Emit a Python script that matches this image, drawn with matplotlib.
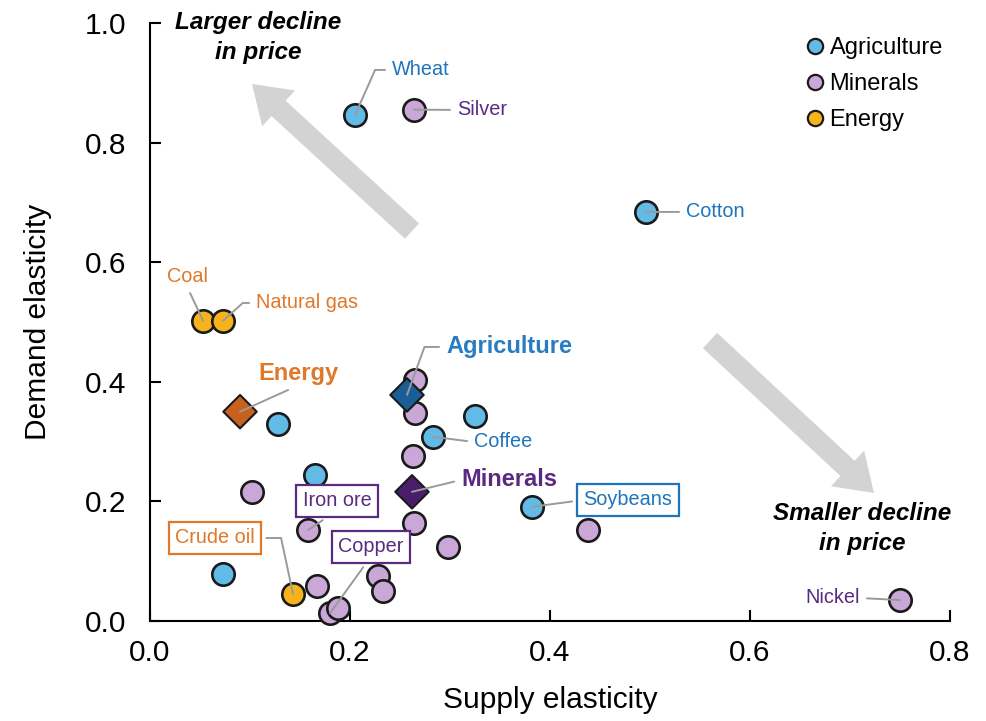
import matplotlib
matplotlib.use("Agg")
import matplotlib.pyplot as plt
from matplotlib.lines import Line2D

plt.rcParams['font.family'] = ['Liberation Sans', 'DejaVu Sans']

# ---------------- data ----------------
agri_names = ["Wheat", "Cotton", "", "", "Coffee", "", "Soybeans", ""]
agri_x = [0.205, 0.496, 0.128, 0.325, 0.283, 0.165, 0.382, 0.073]
agri_y = [0.846, 0.684, 0.329, 0.343, 0.308, 0.244, 0.191, 0.079]

min_names = ["Silver", "", "", "", "", "", "Iron ore", "", "", "", "", "",
             "Copper", "", "Nickel"]
min_x = [0.264, 0.265, 0.265, 0.263, 0.102, 0.264, 0.158, 0.298, 0.438,
         0.167, 0.228, 0.233, 0.180, 0.188, 0.750]
min_y = [0.855, 0.403, 0.348, 0.276, 0.216, 0.164, 0.152, 0.124, 0.152,
         0.059, 0.075, 0.050, 0.013, 0.022, 0.035]

en_names = ["Coal", "Natural gas", "Crude oil"]
en_x = [0.053, 0.073, 0.143]
en_y = [0.502, 0.502, 0.045]

agg_names = ["Energy", "Agriculture", "Minerals"]
agg_x = [0.090, 0.257, 0.262]
agg_y = [0.350, 0.378, 0.216]

x_ticks = [0.0, 0.2, 0.4, 0.6, 0.8]
y_ticks = [0.0, 0.2, 0.4, 0.6, 0.8, 1.0]

# ---------------- styles ----------------
AGRI_FILL, MIN_FILL, EN_FILL = "#62BAE6", "#C9A7D6", "#F7B31C"
AGRI_TXT, MIN_TXT, EN_TXT = "#1E74BD", "#5A2A80", "#E0782A"
AGG_FILL = {"Energy": "#C8611E", "Agriculture": "#1B5E97", "Minerals": "#4A1D6B"}
EDGE = "#1a1a1a"
LEAD = "#9a9a9a"
ARROW = "#D3D3D3"

fig = plt.figure(figsize=(9.87, 7.21), dpi=100)
ax = fig.add_axes([0.152, 0.1387, 0.8105, 0.8295])
ax.set_xlim(0, 0.8)
ax.set_ylim(0, 1.0)

# big grey arrows
arrow_style = "simple,head_length=1.3,head_width=1.75,tail_width=0.75"
ax.annotate("", xy=(0.102, 0.898), xytext=(0.262, 0.652),
            arrowprops=dict(arrowstyle=arrow_style, color=ARROW, lw=0,
                            mutation_scale=20, shrinkA=0, shrinkB=0), zorder=1)
ax.annotate("", xy=(0.724, 0.214), xytext=(0.560, 0.469),
            arrowprops=dict(arrowstyle=arrow_style, color=ARROW, lw=0,
                            mutation_scale=20, shrinkA=0, shrinkB=0), zorder=1)

ax.text(0.108, 0.976, "Larger decline\nin price", ha="center", va="center",
        fontsize=17.5, fontweight="bold", fontstyle="italic", linespacing=1.38)
ax.text(0.712, 0.155, "Smaller decline\nin price", ha="center", va="center",
        fontsize=17.5, fontweight="bold", fontstyle="italic", linespacing=1.38)

S = 260
ax.scatter(agri_x, agri_y, s=S, c=AGRI_FILL, edgecolors=EDGE, linewidths=1.9,
           zorder=3, clip_on=False)
ax.scatter(min_x, min_y, s=S, c=MIN_FILL, edgecolors=EDGE, linewidths=1.9,
           zorder=3, clip_on=False)
ax.scatter(en_x, en_y, s=S, c=EN_FILL, edgecolors=EDGE, linewidths=1.9,
           zorder=3, clip_on=False)
ax.scatter(agg_x, agg_y, s=290, marker="D",
           c=[AGG_FILL[n] for n in agg_names], edgecolors=EDGE, linewidths=1.5,
           zorder=4, clip_on=False)

# ---------------- labels (layout) ----------------
def px(xp, yp):
    """convert pixel position of the reference layout into data coords"""
    return ((xp - 150) / 1000.0, (621 - yp) / 598.0)

# name: (text pos pixel, ha, relpos, angleB or None, boxed, big)
layout = {
    "Wheat":       ((392, 70), "left", (0, 0.5), 66, False, False),
    "Silver":      ((457, 110), "left", (0, 0.5), None, False, False),
    "Cotton":      ((686, 212), "left", (0, 0.5), None, False, False),
    "Coffee":      ((474, 442), "left", (0, 0.5), None, False, False),
    "Soybeans":    ((628, 500), "center", (0, 0.5), None, True, False),
    "Iron ore":    ((337, 501), "center", (0.5, 0), None, True, False),
    "Copper":      ((371, 547), "center", (0.5, 0), None, True, False),
    "Nickel":      ((860, 598), "right", (1, 0.5), None, False, False),
    "Coal":        ((187, 277), "center", (0.5, 0), None, False, False),
    "Natural gas": ((256, 303), "left", (0, 0.5), 42, False, False),
    "Crude oil":   ((215, 538), "center", (1, 0.5), 102, True, False),
    "Energy":      ((258, 374), "left", (0.5, 0), None, False, True),
    "Agriculture": ((446, 347), "left", (0, 0.5), 70, False, True),
    "Minerals":    ((461, 480), "left", (0, 0.5), None, False, True),
}

points = {}
for names, xs, ys, col in ((agri_names, agri_x, agri_y, AGRI_TXT),
                           (min_names, min_x, min_y, MIN_TXT),
                           (en_names, en_x, en_y, EN_TXT)):
    for n, x, y in zip(names, xs, ys):
        if n:
            points[n] = (x, y, col)
agg_txt = {"Energy": EN_TXT, "Agriculture": "#2A7CC2", "Minerals": "#5A2A80"}
for n, x, y in zip(agg_names, agg_x, agg_y):
    points[n] = (x, y, agg_txt[n])

for name, (x, y, col) in points.items():
    (tp, ha, relpos, angB, boxed, big) = layout[name]
    conn = "arc3" if angB is None else f"angle,angleA=0,angleB={angB},rad=0"
    kw = dict(fontsize=17 if big else 14.3, color=col,
              fontweight="bold" if big else "normal")
    if boxed:
        kw["bbox"] = dict(boxstyle="square,pad=0.33", fc="white", ec=col, lw=1.6)
    ax.annotate(name, xy=(x, y), xytext=px(*tp), ha=ha, va="center",
                arrowprops=dict(arrowstyle="-", color=LEAD, lw=1.4,
                                connectionstyle=conn, relpos=relpos,
                                shrinkA=3, shrinkB=0),
                zorder=5, **kw)

# ---------------- axes styling ----------------
for sp in ("top", "right"):
    ax.spines[sp].set_visible(False)
for sp in ("left", "bottom"):
    ax.spines[sp].set_linewidth(1.5)
ax.set_xticks(x_ticks)
ax.set_yticks(y_ticks)
ax.set_xticklabels([f"{v:.1f}" for v in x_ticks])
ax.set_yticklabels([f"{v:.1f}" for v in y_ticks])
ax.tick_params(axis="both", direction="in", length=8, width=1.5, labelsize=21.5)
ax.tick_params(axis="x", pad=13)
ax.tick_params(axis="y", pad=17)
ax.set_xlabel("Supply elasticity", fontsize=21.5, labelpad=14)
ax.set_ylabel("Demand elasticity", fontsize=21.5, labelpad=24)

handles = [Line2D([], [], ls="none", marker="o", ms=11, mfc=c, mec=EDGE, mew=1.6)
           for c in (AGRI_FILL, MIN_FILL, EN_FILL)]
fig.legend(handles, ["Agriculture", "Minerals", "Energy"], loc="upper left",
           bbox_to_anchor=(806 / 987, 1 - 37 / 721), frameon=False, fontsize=17,
           handlelength=0.8, handletextpad=0.2, labelspacing=0.6,
           borderpad=0, borderaxespad=0)

fig.savefig("out.png", dpi=100)
